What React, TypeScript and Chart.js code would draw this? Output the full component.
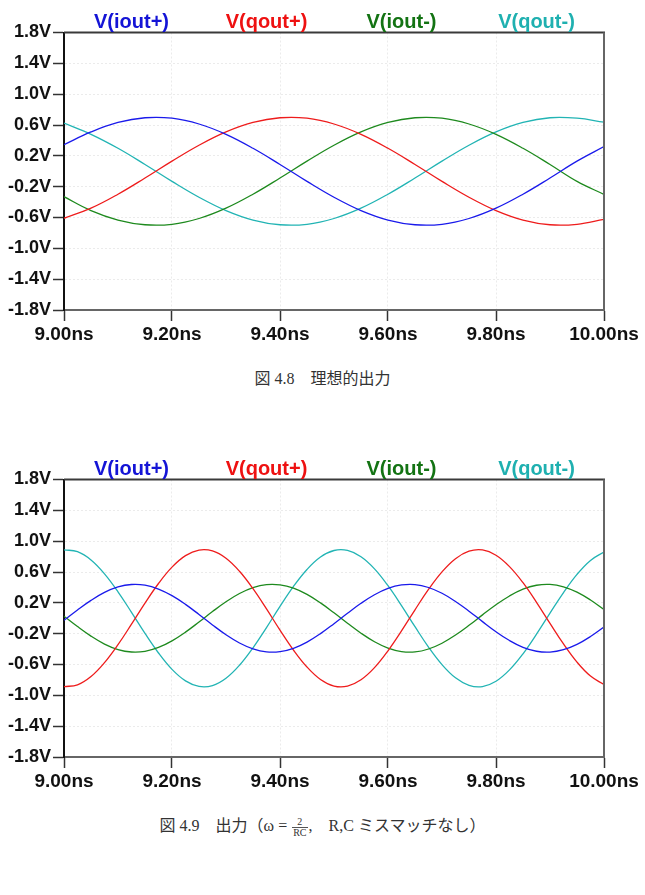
import React, { useEffect, useRef } from "react";
import { Chart, registerables } from "chart.js";

Chart.register(...registerables);

// Node names and colours
const seriesNames = ["V(iout+)", "V(qout+)", "V(iout-)", "V(qout-)"];
const lineColors = ["#1a1aeb", "#ee1c1c", "#1e8a1e", "#22b4b4"];
const labelColors = ["#1414d6", "#ee1111", "#137313", "#1fb0b0"];

// Axis ticks
const xTickValues = [9.0, 9.2, 9.4, 9.6, 9.8, 10.0];
const yTickValues = [-1.8, -1.4, -1.0, -0.6, -0.2, 0.2, 0.6, 1.0, 1.4, 1.8];

// Fig 4.8 — ideal quadrature outputs (time in ns, voltages in V)
const timeA = [
  9.0, 9.05, 9.1, 9.15, 9.2, 9.25, 9.3, 9.35, 9.4, 9.45, 9.5,
  9.55, 9.6, 9.65, 9.7, 9.75, 9.8, 9.85, 9.9, 9.95, 10.0,
];
const ioutPlusA = [
  0.345, 0.51, 0.633, 0.694, 0.688, 0.613, 0.479, 0.298, 0.088, -0.131, -0.337,
  -0.51, -0.633, -0.694, -0.688, -0.613, -0.479, -0.298, -0.088, 0.131, 0.32,
];
const qoutPlusA = [
  -0.61, -0.479, -0.298, -0.088, 0.131, 0.337, 0.51, 0.633, 0.694, 0.688, 0.613,
  0.479, 0.298, 0.088, -0.131, -0.337, -0.51, -0.633, -0.694, -0.688, -0.625,
];
const ioutMinusA = [
  -0.33, -0.51, -0.633, -0.694, -0.688, -0.613, -0.479, -0.298, -0.088, 0.131, 0.337,
  0.51, 0.633, 0.694, 0.688, 0.613, 0.479, 0.298, 0.088, -0.131, -0.3,
];
const qoutMinusA = [
  0.625, 0.479, 0.298, 0.088, -0.131, -0.337, -0.51, -0.633, -0.694, -0.688, -0.613,
  -0.479, -0.298, -0.088, 0.131, 0.337, 0.51, 0.633, 0.694, 0.688, 0.637,
];

// Fig 4.9 — outputs with ω = 2/RC (time in ns, voltages in V)
const timeB = [
  9.0, 9.025, 9.05, 9.075, 9.1, 9.125, 9.15, 9.175, 9.2, 9.225, 9.25,
  9.275, 9.3, 9.325, 9.35, 9.375, 9.4, 9.425, 9.45, 9.475, 9.5,
  9.525, 9.55, 9.575, 9.6, 9.625, 9.65, 9.675, 9.7, 9.725, 9.75,
  9.775, 9.8, 9.825, 9.85, 9.875, 9.9, 9.925, 9.95, 9.975, 10.0,
];
const ioutPlusB = [
  -0.027, 0.108, 0.232, 0.335, 0.406, 0.438, 0.429, 0.379, 0.293, 0.18, 0.049,
  -0.087, -0.214, -0.321, -0.397, -0.436, -0.433, -0.39, -0.309, -0.199, -0.07,
  0.065, 0.194, 0.305, 0.387, 0.432, 0.437, 0.399, 0.324, 0.218, 0.092,
  -0.044, -0.175, -0.289, -0.377, -0.428, -0.439, -0.408, -0.339, -0.237, -0.113,
];
const qoutPlusB = [
  -0.888, -0.863, -0.756, -0.576, -0.343, -0.077, 0.197, 0.451, 0.663, 0.812, 0.884,
  0.873, 0.778, 0.609, 0.383, 0.121, -0.154, -0.413, -0.633, -0.794, -0.879,
  -0.88, -0.798, -0.641, -0.422, -0.164, 0.11, 0.374, 0.602, 0.773, 0.87,
  0.886, 0.817, 0.67, 0.461, 0.207, -0.066, -0.333, -0.569, -0.75, -0.86,
];
const ioutMinusB = [
  0.027, -0.108, -0.232, -0.335, -0.406, -0.438, -0.429, -0.379, -0.293, -0.18, -0.049,
  0.087, 0.214, 0.321, 0.397, 0.436, 0.433, 0.39, 0.309, 0.199, 0.07,
  -0.065, -0.194, -0.305, -0.387, -0.432, -0.437, -0.399, -0.324, -0.218, -0.092,
  0.044, 0.175, 0.289, 0.377, 0.428, 0.439, 0.408, 0.339, 0.237, 0.113,
];
const qoutMinusB = [
  0.888, 0.863, 0.756, 0.576, 0.343, 0.077, -0.197, -0.451, -0.663, -0.812, -0.884,
  -0.873, -0.778, -0.609, -0.383, -0.121, 0.154, 0.413, 0.633, 0.794, 0.879,
  0.88, 0.798, 0.641, 0.422, 0.164, -0.11, -0.374, -0.602, -0.773, -0.87,
  -0.886, -0.817, -0.67, -0.461, -0.207, 0.066, 0.333, 0.569, 0.75, 0.86,
];

const SANS = '"Liberation Sans", Arial, sans-serif';

// Draws the top/right frame and the coloured node names above the plot
const framePlugin = {
  id: "waveFrame",
  afterDraw(chart: any) {
    const { ctx, chartArea } = chart;
    const { left, right, top, bottom } = chartArea;
    ctx.save();
    ctx.lineWidth = 2;
    ctx.strokeStyle = "#3a3a3a";
    ctx.beginPath();
    ctx.moveTo(left, top);
    ctx.lineTo(right + 1, top);
    ctx.stroke();
    ctx.strokeStyle = "#666";
    ctx.beginPath();
    ctx.moveTo(right, top);
    ctx.lineTo(right, bottom + 1);
    ctx.stroke();

    ctx.font = `bold 20px ${SANS}`;
    ctx.textAlign = "center";
    ctx.textBaseline = "alphabetic";
    const w = right - left;
    chart.data.datasets.forEach((ds: any, i: number) => {
      ctx.fillStyle = labelColors[i];
      ctx.fillText(ds.label, left + ((2 * i + 1) * w) / 8, top - 5);
    });
    ctx.restore();
  },
};

type WaveProps = { top: number; time: number[]; series: number[][] };

function WaveChart({ top, time, series }: WaveProps) {
  const ref = useRef<HTMLCanvasElement>(null);

  useEffect(() => {
    const chart = new Chart(ref.current as HTMLCanvasElement, {
      type: "line",
      data: {
        datasets: series.map((values, i) => ({
          label: seriesNames[i],
          data: time.map((t, j) => ({ x: t, y: values[j] })),
          borderColor: lineColors[i],
          backgroundColor: lineColors[i],
          borderWidth: 1.3,
          pointRadius: 0,
          tension: 0.4,
          fill: false,
        })),
      },
      options: {
        animation: false,
        responsive: false,
        devicePixelRatio: 1,
        events: [],
        layout: { padding: { left: 0, right: 41, top: 32.5, bottom: 0 } },
        plugins: {
          legend: { display: false },
          tooltip: { enabled: false },
        },
        scales: {
          x: {
            type: "linear",
            min: 9,
            max: 10,
            afterBuildTicks: (s: any) => {
              s.ticks = xTickValues.map((v) => ({ value: v }));
            },
            afterFit: (s: any) => {
              s.height = 40;
              s.paddingLeft = 0;
              s.paddingRight = 0;
            },
            ticks: {
              autoSkip: false,
              maxRotation: 0,
              padding: 2,
              color: "#111",
              font: { family: SANS, size: 19, weight: "bold" },
              callback: (v: any) => `${Number(v).toFixed(2)}ns`,
            },
            grid: {
              color: "rgba(0,0,0,0.08)",
              lineWidth: 1,
              tickLength: 11,
              tickColor: "#333",
              tickWidth: 1.5,
            },
            border: { color: "#666", width: 2, dash: [2, 2] },
          },
          y: {
            type: "linear",
            min: -1.8,
            max: 1.8,
            afterBuildTicks: (s: any) => {
              s.ticks = yTickValues.map((v) => ({ value: v }));
            },
            afterFit: (s: any) => {
              s.width = 64;
            },
            ticks: {
              autoSkip: false,
              padding: 2,
              color: "#111",
              font: { family: SANS, size: 18, weight: "bold" },
              callback: (v: any) => `${Number(v).toFixed(1)}V`,
            },
            grid: {
              color: "rgba(0,0,0,0.08)",
              lineWidth: 1,
              tickLength: 11,
              tickColor: "#333",
              tickWidth: 1.5,
            },
            border: { color: "#111", width: 2, dash: [2, 2] },
          },
        },
      } as any,
      plugins: [framePlugin],
    });
    return () => chart.destroy();
  }, [time, series]);

  return (
    <canvas
      ref={ref}
      width={645}
      height={350}
      style={{ position: "absolute", left: 0, top, display: "block" }}
    />
  );
}

const captionStyle: React.CSSProperties = {
  position: "absolute",
  left: 0,
  width: 645,
  textAlign: "center",
  fontFamily: '"Liberation Serif", "Noto Sans CJK JP", serif',
  fontSize: 16,
  lineHeight: "20px",
  color: "#333",
  whiteSpace: "nowrap",
};

const seriesA = [ioutPlusA, qoutPlusA, ioutMinusA, qoutMinusA];
const seriesB = [ioutPlusB, qoutPlusB, ioutMinusB, qoutMinusB];

export default function App() {
  return (
    <div
      style={{
        position: "absolute",
        left: 0,
        top: 0,
        width: 645,
        height: 895,
        background: "#fff",
        overflow: "hidden",
      }}
    >
      <WaveChart top={0} time={timeA} series={seriesA} />
      <div style={{ ...captionStyle, top: 369 }}>図 4.8{"\u3000"}理想的出力</div>

      <WaveChart top={447} time={timeB} series={seriesB} />
      <div style={{ ...captionStyle, top: 816 }}>
        図 4.9{"\u3000"}出力（ω ={" "}
        <span
          style={{
            display: "inline-flex",
            flexDirection: "column",
            alignItems: "center",
            verticalAlign: "middle",
            fontSize: 10,
            lineHeight: "10px",
            margin: "0 1px",
          }}
        >
          <span>2</span>
          <span style={{ borderTop: "1px solid #555", padding: "0 1px" }}>RC</span>
        </span>
        ,{"\u3000"}R,C ミスマッチなし）
      </div>
    </div>
  );
}
